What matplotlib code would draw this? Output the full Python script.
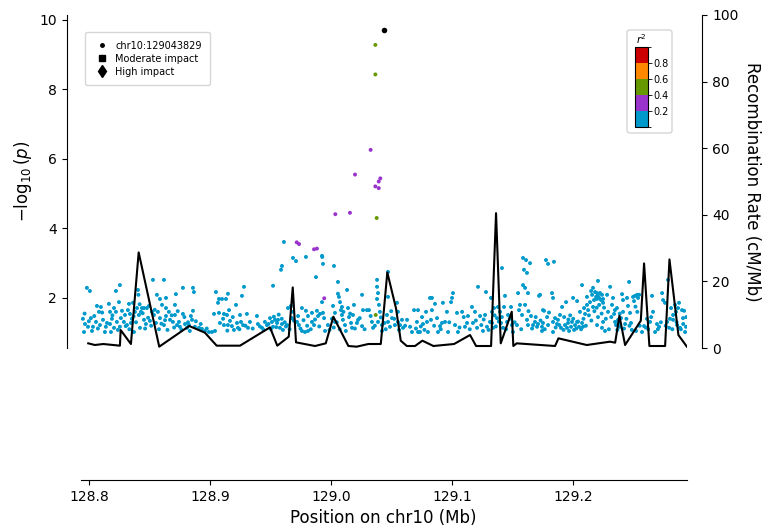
import matplotlib
matplotlib.use("Agg")
import matplotlib.pyplot as plt
from matplotlib.colors import ListedColormap, BoundaryNorm
from matplotlib.cm import ScalarMappable
from matplotlib.lines import Line2D
from matplotlib.patches import FancyBboxPatch
from matplotlib.ticker import FormatStrFormatter

plt.rcParams['font.family'] = ['DejaVu Sans']

# ---------------------------------------------------------------- data
lead_snp = "chr10:129043829"
lead_pos = 129.043829
lead_logp = 9.71

xlim_mb = (128.7926, 129.2941)
xticks_mb = [128.8, 128.9, 129.0, 129.1, 129.2]
logp_ticks = [2, 4, 6, 8, 10]
rate_ticks = [0, 20, 40, 60, 80, 100]

# LD bins (r^2) and their colours
r2_bounds = [0.0, 0.2, 0.4, 0.6, 0.8, 1.0]
r2_colors = ["#0099CC", "#9933CC", "#669900", "#FF8800", "#CC0000"]

# SNPs in moderate LD with the lead variant: (position Mb, -log10 p, r2)
snps_ld = [
    (129.0364, 9.28, 0.5), (129.0364, 8.43, 0.5), (129.0375, 4.30, 0.5),
    (129.0367, 1.51, 0.5),
    (129.0325, 6.26, 0.3), (129.0196, 5.55, 0.3), (129.0405, 5.44, 0.3),
    (129.0392, 5.35, 0.3), (129.0364, 5.21, 0.3), (129.0392, 5.16, 0.3),
    (129.0033, 4.41, 0.3), (129.0154, 4.45, 0.3), (128.9714, 3.60, 0.3),
    (128.9733, 3.55, 0.3), (128.9857, 3.40, 0.3), (128.9881, 3.42, 0.3),
    (128.9941, 1.99, 0.3),
]

# SNPs with r2 < 0.2: (position Mb, -log10 p)
snps_low_a = [
    (128.7979, 2.29), (128.8004, 2.20), (128.7946, 1.40), (128.7963, 1.25),
    (128.7955, 1.02), (128.7988, 1.17), (128.8012, 1.42), (128.8029, 1.17),
    (128.8021, 1.05), (128.8062, 1.77), (128.8095, 1.74), (128.8079, 1.60),
    (128.8054, 1.31), (128.8087, 1.22), (128.8112, 1.37), (128.8136, 1.17),
    (128.8128, 1.02), (128.8161, 1.83), (128.8170, 1.60), (128.8186, 1.40),
    (128.8170, 1.25), (128.8203, 1.14), (128.8178, 1.02), (128.8203, 1.71),
    (128.8219, 2.20), (128.8252, 2.37), (128.8219, 1.60), (128.8227, 1.31),
    (128.8252, 1.17), (128.8244, 1.88), (128.8269, 1.63), (128.8285, 1.31),
    (128.8294, 1.51), (128.8327, 1.83), (128.8318, 1.65), (128.8335, 1.54),
    (128.8310, 1.22), (128.8343, 1.28), (128.8351, 1.40), (128.8368, 1.02),
    (128.8360, 1.86), (128.8376, 1.60), (128.8401, 2.23), (128.8405, 2.09),
    (128.8393, 1.71), (128.8409, 1.51), (128.8426, 1.60), (128.8434, 1.71),
    (128.8451, 1.71), (128.8475, 1.71), (128.8492, 1.77), (128.8451, 1.37),
    (128.8467, 1.25), (128.8418, 1.14), (128.8500, 1.34), (128.8525, 2.52),
    (128.8517, 1.60), (128.8533, 1.51), (128.8550, 1.28), (128.8558, 2.09),
    (128.8566, 1.60), (128.8583, 1.97), (128.8600, 1.80), (128.8583, 1.42),
    (128.8616, 2.52), (128.8633, 2.00), (128.8633, 1.71), (128.8633, 1.48),
    (128.8616, 1.22), (128.8657, 1.60), (128.8666, 1.37), (128.8690, 1.31),
    (128.8715, 2.11), (128.8707, 1.80), (128.8707, 1.51), (128.8724, 1.22),
    (128.8740, 1.31), (128.8748, 1.17), (128.8773, 2.29), (128.8773, 1.54),
    (128.8790, 1.25), (128.8806, 1.14), (128.8823, 1.22), (128.8839, 1.48),
    (128.8856, 2.29), (128.8864, 2.17), (128.8856, 1.63), (128.8848, 1.37),
    (128.8872, 1.17), (128.8906, 1.14), (128.8930, 1.11), (128.8955, 1.05),
    (128.8988, 1.02), (128.9013, 1.02), (128.9030, 1.54), (128.9046, 2.17),
    (128.9071, 1.97), (128.9096, 1.97), (128.9129, 1.97), (128.9063, 1.86),
    (128.9071, 1.57), (128.9079, 1.28), (128.9112, 1.54), (128.9112, 1.22),
    (128.9038, 1.05),
]

snps_low_b = [
    (128.9608, 3.61), (128.9592, 2.92), (128.9584, 2.81), (128.9683, 3.15),
    (128.9708, 3.06), (128.9790, 3.18), (128.9923, 3.21), (128.9925, 3.18),
    (128.9931, 2.98), (129.0022, 2.92), (128.9873, 2.60), (128.9518, 2.35),
    (128.9278, 2.32), (128.9261, 2.06), (128.9145, 2.12), (128.9212, 1.80),
    (128.9154, 1.65), (128.9137, 1.51), (128.9162, 1.34), (128.9178, 1.19),
    (128.9145, 1.22), (128.9195, 1.08), (128.9245, 1.51), (128.9253, 1.31),
    (128.9228, 1.14), (128.9270, 1.22), (128.9302, 1.54), (128.9311, 1.14),
    (128.9327, 1.31), (128.9385, 1.48), (128.9393, 1.25), (128.9427, 1.14),
    (128.9451, 1.31), (128.9468, 1.22), (128.9493, 1.42), (128.9509, 1.31),
    (128.9518, 1.17), (128.9534, 1.37), (128.9551, 1.28), (128.9559, 1.37),
    (128.9575, 1.14), (128.9592, 1.25), (128.9600, 1.08), (128.9633, 1.22),
    (128.9642, 1.71), (128.9666, 1.77), (128.9675, 1.42), (128.9683, 1.60),
    (128.9716, 1.31), (128.9732, 1.22), (128.9757, 1.71), (128.9757, 1.05),
    (128.9782, 1.02), (128.9790, 1.63), (128.9807, 1.48), (128.9807, 1.05),
    (128.9840, 1.31), (128.9840, 1.57), (128.9857, 1.22), (128.9881, 1.63),
    (128.9890, 1.48), (128.9906, 1.54), (128.9931, 1.57), (128.9923, 1.88),
    (128.9948, 1.05), (128.9972, 1.22), (129.0014, 1.77), (129.0030, 1.57),
    (129.0030, 1.31), (129.0055, 2.46), (129.0055, 2.12), (129.0063, 2.03),
    (129.0072, 1.88), (129.0080, 1.65), (129.0088, 1.74), (129.0088, 1.51),
    (129.0096, 1.37), (129.0113, 1.22), (129.0130, 2.23), (129.0138, 1.71),
    (129.0146, 1.45), (129.0163, 1.28), (129.0171, 1.14), (129.0187, 1.80),
    (129.0179, 1.51), (129.0212, 1.28), (129.0221, 1.37), (129.0254, 2.09),
    (129.0254, 1.19), (129.0262, 1.65), (129.0295, 1.65), (129.0311, 1.65),
    (129.0336, 1.31), (129.0345, 1.14), (129.0378, 2.52), (129.0378, 2.32),
    (129.0386, 2.14), (129.0378, 1.97), (129.0394, 1.80), (129.0386, 1.31),
    (129.0402, 1.60), (129.0419, 1.22), (129.0419, 1.05),
]

snps_low_c = [
    (129.0469, 2.75), (129.0469, 2.03), (129.0460, 1.51), (129.0469, 1.31),
    (129.0485, 1.17), (129.0502, 1.42), (129.0543, 1.86), (129.0551, 1.60),
    (129.0526, 1.22), (129.0551, 1.31), (129.0568, 1.22), (129.0584, 1.37),
    (129.0593, 1.14), (129.0626, 1.37), (129.0651, 1.17), (129.0667, 1.02),
    (129.0684, 1.65), (129.0717, 1.65), (129.0708, 1.31), (129.0717, 1.02),
    (129.0733, 1.02), (129.0750, 1.45), (129.0758, 1.25), (129.0783, 1.60),
    (129.0791, 1.31), (129.0799, 1.02), (129.0816, 2.00), (129.0832, 2.00),
    (129.0832, 1.65), (129.0824, 1.37), (129.0857, 1.83), (129.0874, 1.42),
    (129.0882, 1.02), (129.0899, 1.19), (129.0915, 1.28), (129.0923, 1.86),
    (129.0940, 1.31), (129.0956, 1.60), (129.0965, 1.02), (129.0990, 1.88),
    (129.1006, 2.14), (129.0998, 2.00), (129.1023, 1.22), (129.1039, 1.57),
    (129.1047, 1.02), (129.1081, 1.60), (129.1105, 1.17), (129.1122, 1.28),
    (129.1130, 1.48), (129.1163, 1.74), (129.1171, 1.28), (129.1188, 1.60),
    (129.1213, 2.32), (129.1205, 1.14), (129.1230, 1.48), (129.1254, 1.05),
    (129.1271, 1.51), (129.1279, 2.17), (129.1287, 1.17), (129.1312, 1.31),
    (129.1320, 2.00), (129.1329, 1.60), (129.1329, 1.28), (129.1345, 1.71),
    (129.1337, 1.14), (129.1370, 1.42), (129.1378, 1.74), (129.1395, 1.60),
    (129.1411, 2.86), (129.1403, 1.28), (129.1420, 1.14), (129.1436, 2.06),
    (129.1428, 1.74), (129.1453, 1.31), (129.1461, 1.51), (129.1486, 1.74),
    (129.1494, 1.22), (129.1502, 1.02), (129.1535, 1.22), (129.1544, 2.14),
    (129.1552, 1.65), (129.1560, 1.80), (129.1577, 1.51), (129.1585, 3.15),
    (129.1610, 3.09), (129.1593, 2.81), (129.1618, 2.72), (129.1585, 2.37),
    (129.1602, 2.29), (129.1626, 2.14), (129.1643, 3.00), (129.1602, 1.80),
    (129.1618, 1.37), (129.1626, 1.22), (129.1651, 1.48), (129.1668, 1.22),
    (129.1684, 1.31), (129.1701, 1.17), (129.1717, 2.06), (129.1709, 1.25),
    (129.1742, 1.17), (129.1750, 1.65),
]

snps_low_d = [
    (129.1775, 3.09), (129.1792, 2.98), (129.1841, 3.04), (129.1726, 2.09),
    (129.1759, 1.63), (129.1784, 1.45), (129.1750, 1.28), (129.1792, 1.22),
    (129.1742, 1.05), (129.1825, 2.14), (129.1833, 2.00), (129.1833, 1.31),
    (129.1850, 1.42), (129.1833, 1.02), (129.1866, 1.25), (129.1874, 1.37),
    (129.1891, 1.51), (129.1908, 1.74), (129.1899, 1.14), (129.1932, 1.22),
    (129.1941, 1.88), (129.1949, 1.14), (129.1957, 1.28), (129.1966, 1.05),
    (129.1982, 1.17), (129.1990, 1.31), (129.1999, 2.00), (129.2007, 1.08),
    (129.2015, 1.22), (129.2032, 1.91), (129.2032, 1.31), (129.2048, 1.17),
    (129.2056, 1.60), (129.2073, 2.37), (129.2073, 1.28), (129.2081, 1.17),
    (129.2090, 1.71), (129.2098, 1.54), (129.2114, 2.03), (129.2114, 1.80),
    (129.2123, 1.65), (129.2139, 1.88), (129.2148, 2.20), (129.2156, 2.09),
    (129.2164, 2.29), (129.2164, 1.74), (129.2172, 1.94), (129.2181, 2.17),
    (129.2189, 2.03), (129.2197, 2.14), (129.2197, 1.97), (129.2205, 2.49),
    (129.2205, 2.09), (129.2214, 2.00), (129.2222, 2.14), (129.2230, 1.94),
    (129.2238, 2.09), (129.2247, 1.97), (129.2247, 1.86), (129.2197, 1.22),
    (129.2205, 1.45), (129.2238, 1.14), (129.2247, 1.31), (129.2263, 1.05),
    (129.2280, 2.09), (129.2288, 1.60), (129.2305, 2.32), (129.2321, 1.80),
    (129.2329, 2.00), (129.2338, 1.54), (129.2346, 1.31), (129.2354, 1.22),
    (129.2362, 1.71), (129.2371, 1.37), (129.2379, 1.28), (129.2387, 1.17),
    (129.2395, 1.42), (129.2404, 2.11), (129.2412, 1.94), (129.2412, 1.60),
    (129.2429, 1.25), (129.2445, 2.00), (129.2453, 1.77), (129.2462, 2.46),
    (129.2470, 1.57), (129.2478, 1.28), (129.2495, 2.03), (129.2503, 1.91),
    (129.2511, 2.06), (129.2528, 2.09), (129.2536, 2.00), (129.2545, 2.09),
    (129.2520, 1.05), (129.2569, 1.02), (129.2586, 1.19), (129.2610, 1.40),
    (129.2635, 1.31), (129.2652, 2.06), (129.2660, 1.60), (129.2677, 1.02),
    (129.2693, 1.25), (129.2710, 1.17), (129.2735, 2.14), (129.2743, 1.94),
    (129.2759, 1.86), (129.2776, 1.31), (129.2784, 2.52), (129.2793, 1.14),
    (129.2809, 1.71), (129.2826, 1.51), (129.2826, 1.37), (129.2842, 1.80),
    (129.2850, 1.60), (129.2859, 1.22), (129.2867, 1.71), (129.2875, 1.86),
    (129.2883, 1.14), (129.2900, 1.65), (129.2908, 1.42), (129.2917, 1.63),
    (129.2933, 1.17), (129.2925, 1.02),
]

snps_low_e = [
    (128.7960, 1.55), (128.7995, 1.33), (128.8040, 1.48), (128.8070, 1.12),
    (128.8105, 1.58), (128.8145, 1.28), (128.8190, 1.50), (128.8235, 1.08),
    (128.8260, 1.42), (128.8300, 1.19), (128.8330, 1.10), (128.8365, 1.47),
    (128.8385, 1.30), (128.8415, 1.82), (128.8440, 1.56), (128.8460, 1.12),
    (128.8485, 1.43), (128.8510, 1.20), (128.8540, 1.66), (128.8575, 1.10),
    (128.8595, 1.26), (128.8625, 1.36), (128.8645, 1.08), (128.8680, 1.50),
    (128.8700, 1.15), (128.8730, 1.62), (128.8760, 1.09), (128.8785, 1.45),
    (128.8815, 1.30), (128.8830, 1.05), (128.8880, 1.33), (128.8920, 1.25),
    (128.8970, 1.12), (128.9105, 1.40), (128.9140, 1.06), (128.9185, 1.45),
    (128.9220, 1.28), (128.9240, 1.10), (128.9290, 1.20), (128.9350, 1.12),
    (128.9410, 1.18), (128.9440, 1.08), (128.9480, 1.25), (128.9500, 1.10),
    (128.9525, 1.46), (128.9545, 1.16), (128.9565, 1.52), (128.9590, 1.40),
    (128.9615, 1.30), (128.9625, 1.18), (128.9655, 1.10), (128.9690, 1.35),
    (128.9725, 1.48), (128.9745, 1.12), (128.9770, 1.36), (128.9800, 1.20),
    (128.9830, 1.10), (128.9865, 1.38), (128.9900, 1.18), (128.9940, 1.42),
    (128.9985, 1.08), (129.0005, 1.40), (129.0020, 1.15), (129.0045, 1.30),
    (129.0070, 1.10), (129.0100, 1.60), (129.0120, 1.05), (129.0155, 1.55),
    (129.0195, 1.12), (129.0235, 1.42), (129.0275, 1.10), (129.0325, 1.48),
    (129.0360, 1.20), (129.0410, 1.44), (129.0440, 1.28), (129.0450, 1.10),
    (129.0495, 1.62), (129.0520, 1.40), (129.0560, 1.08), (129.0610, 1.20),
    (129.0700, 1.12), (129.0740, 1.18), (129.0770, 1.08), (129.0850, 1.20),
    (129.0905, 1.10), (129.0975, 1.30), (129.1060, 1.15), (129.1095, 1.45),
    (129.1145, 1.10), (129.1195, 1.35), (129.1240, 1.22), (129.1260, 1.38),
    (129.1300, 1.08), (129.1350, 1.50), (129.1360, 1.18), (129.1385, 1.32),
    (129.1410, 1.45), (129.1445, 1.10), (129.1475, 1.40), (129.1515, 1.30),
    (129.1570, 1.10), (129.1630, 1.62), (129.1660, 1.12), (129.1690, 1.45),
    (129.1730, 1.35), (129.1765, 1.10), (129.1800, 1.58), (129.1855, 1.15),
    (129.1885, 1.22), (129.1920, 1.08), (129.1925, 1.45), (129.1960, 1.38),
    (129.1975, 1.50), (129.2000, 1.40), (129.2025, 1.12), (129.2040, 1.32),
    (129.2065, 1.10), (129.2085, 1.40), (129.2105, 1.20), (129.2130, 1.50),
    (129.2150, 1.35), (129.2175, 1.62), (129.2195, 1.72), (129.2215, 1.80),
    (129.2235, 1.55), (129.2255, 1.72), (129.2270, 1.40), (129.2295, 1.10),
    (129.2315, 1.45), (129.2345, 1.65), (129.2365, 1.08), (129.2385, 1.55),
    (129.2420, 1.12), (129.2440, 1.40), (129.2465, 1.20), (129.2485, 1.08),
    (129.2515, 1.75), (129.2530, 1.60), (129.2550, 1.20), (129.2600, 1.15),
    (129.2620, 1.10), (129.2645, 1.45), (129.2700, 1.10), (129.2725, 1.30),
    (129.2765, 1.20), (129.2800, 1.40), (129.2820, 1.10), (129.2855, 1.30),
    (129.2890, 1.10), (129.2910, 1.25), (129.2935, 1.45),
]

# recombination map (position Mb, cM/Mb)
recomb_pos = [
    128.7990, 128.8045, 128.8114, 128.8252, 128.8258, 128.8343, 128.8407,
    128.8577, 128.8825, 128.8955, 128.9052, 128.9245, 128.9493, 128.9553,
    128.9648, 128.9681, 128.9708, 128.9865, 128.9954, 129.0017, 129.0141,
    129.0210, 129.0306, 129.0409, 129.0463, 129.0535, 129.0574, 129.0624,
    129.0692, 129.0753, 129.0844, 129.1015, 129.1147, 129.1197, 129.1321,
    129.1362, 129.1401, 129.1492, 129.1505, 129.1533, 129.1850, 129.1878,
    129.2112, 129.2305, 129.2347, 129.2382, 129.2429, 129.2559, 129.2586,
    129.2630, 129.2760, 129.2796, 129.2870, 129.2940,
]
recomb_rate = [
    1.4, 0.9, 1.2, 0.7, 5.4, 1.2, 28.7,
    0.4, 6.6, 4.6, 0.7, 0.7, 6.2, 0.7,
    3.4, 18.2, 1.7, 0.6, 1.4, 9.4, 0.6,
    0.4, 1.2, 1.2, 22.7, 11.9, 2.2, 0.6,
    0.6, 2.2, 0.6, 1.2, 3.9, 0.6, 0.6,
    40.5, 1.4, 10.9, 0.6, 1.4, 0.6, 2.9,
    0.9, 1.9, 1.6, 9.7, 0.9, 8.2, 25.4,
    0.6, 0.6, 26.6, 3.9, 0.4,
]

# ---------------------------------------------------------------- figure
W, H = 771, 532
fig = plt.figure(figsize=(W / 100, H / 100), dpi=100)


def px_rect(x0, y0, x1, y1):
    return [x0 / W, 1 - y1 / H, (x1 - x0) / W, (y1 - y0) / H]


ax = fig.add_axes(px_rect(80.5, 15, 687, 348))
ax2 = ax.twinx()
axg = fig.add_axes(px_rect(80.5, 360, 687, 480), sharex=ax)

cmap = ListedColormap(r2_colors)
norm = BoundaryNorm(r2_bounds, cmap.N)

low = snps_low_a + snps_low_b + snps_low_c + snps_low_d + snps_low_e
ax.scatter([p for p, _ in low], [v for _, v in low], s=8,
           c=[0.1] * len(low), cmap=cmap, norm=norm, linewidths=0, zorder=2)
ax.scatter([p for p, _, _ in snps_ld], [v for _, v, _ in snps_ld], s=8,
           c=[r for _, _, r in snps_ld], cmap=cmap, norm=norm,
           linewidths=0, zorder=3)
ax.scatter([lead_pos], [lead_logp], s=16, color="black", linewidths=0,
           zorder=4)

ax.set_xlim(*xlim_mb)
ax.set_ylim(0.56, 10.14)
ax.set_yticks(logp_ticks)
ax.tick_params(axis="y", labelsize=10)
ax.tick_params(axis="x", bottom=False, labelbottom=False)
ax.set_ylabel(r"$-\log_{10}(p)$", fontsize=12)
for side in ("top", "right", "bottom"):
    ax.spines[side].set_visible(False)
ax.spines["left"].set_position(("outward", 10))

ax2.plot(recomb_pos, recomb_rate, color="black", lw=1.5, zorder=5)
ax2.set_ylim(0, 100)
ax2.set_yticks(rate_ticks)
ax2.tick_params(axis="y", labelsize=10)
ax2.set_ylabel("Recombination Rate (cM/Mb)", fontsize=12, rotation=270,
               labelpad=16)
for side in ("top", "left", "bottom"):
    ax2.spines[side].set_visible(False)
ax2.spines["right"].set_position(("outward", 11))

# gene track (no genes in window)
for side in ("top", "left", "right"):
    axg.spines[side].set_visible(False)
axg.set_yticks([])
axg.set_xticks(xticks_mb)
axg.xaxis.set_major_formatter(FormatStrFormatter("%.1f"))
axg.tick_params(axis="x", labelsize=10)
axg.set_xlabel("Position on chr10 (Mb)", fontsize=12)
axg.patch.set_alpha(0)

handles = [
    Line2D([], [], marker="o", color="black", linestyle="", markersize=2.5),
    Line2D([], [], marker="s", color="black", linestyle="", markersize=4.5),
    Line2D([], [], marker="d", color="black", linestyle="", markersize=6),
]
ax2.legend(handles, [lead_snp, "Moderate impact", "High impact"],
           loc="upper left", bbox_to_anchor=(0.0074, 0.949), fontsize=7,
           frameon=True, borderpad=0.9, borderaxespad=0,
           handletextpad=0.6, handlelength=1.6, labelspacing=0.3,
           fancybox=True, edgecolor="#cccccc")

# r2 colour key
frame = FancyBboxPatch((627 / W, 1 - 133 / H), 45 / W, 103 / H,
                       boxstyle="round,pad=0,rounding_size=0.004",
                       transform=fig.transFigure, facecolor="white",
                       edgecolor="#cccccc", lw=0.8, zorder=2)
fig.add_artist(frame)
cax = fig.add_axes(px_rect(635, 47, 648, 127))
cax.set_zorder(3)
cb = fig.colorbar(ScalarMappable(norm=norm, cmap=cmap), cax=cax,
                  ticks=[0.2, 0.4, 0.6, 0.8])
cb.ax.tick_params(labelsize=7, length=3, width=0.6, pad=1)
cb.outline.set_linewidth(0.8)
cax.set_title(r"$r^2$", fontsize=7.5, pad=2)

fig.savefig("out.png", dpi=100)
